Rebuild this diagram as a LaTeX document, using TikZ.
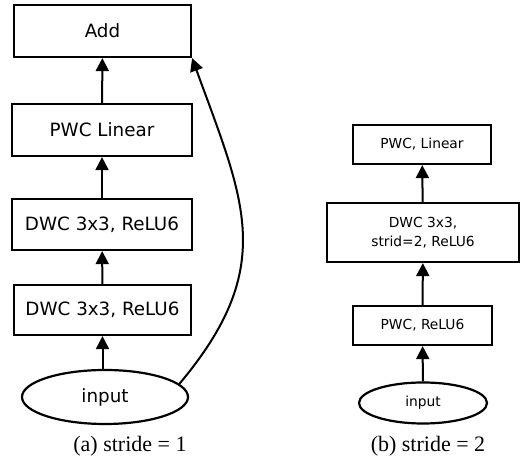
\documentclass[tikz,border=0pt]{standalone}
\usepackage{fontspec}
\setmainfont{Liberation Serif}
\newfontfamily\boxfont{DejaVu Sans}
\usetikzlibrary{arrows.meta,shapes.geometric}
\begin{document}
\begin{tikzpicture}[x=1pt,y=1pt,
    layer/.style={draw,line width=2.2pt,inner sep=0pt},
    bigtext/.style={font=\boxfont\fontsize{18.3}{22}\selectfont},
    smalltext/.style={font=\boxfont\fontsize{13.8}{19.5}\selectfont,align=center},
    flow/.style={line width=2pt,-{Triangle[length=13pt,width=13pt]}},
    caption/.style={font=\fontsize{22}{26}\selectfont}]
    \useasboundingbox (0,0) rectangle (521,462);
    % (a) stride = 1
    \node[layer,bigtext,minimum width=177pt,minimum height=52pt] (addA) at (102.5,431) {Add};
    \node[layer,bigtext,minimum width=180pt,minimum height=52pt] (pwcA) at (102,332) {PWC Linear};
    \node[layer,bigtext,minimum width=180pt,minimum height=51pt] (dwcA1) at (102,237.5) {DWC 3x3, ReLU6};
    \node[layer,bigtext,minimum width=177pt,minimum height=50pt] (dwcA2) at (102.5,152) {DWC 3x3, ReLU6};
    \node[layer,bigtext,ellipse,minimum width=166pt,minimum height=54pt] (inA) at (105,65) {input};
    % Arrows
    \draw[flow] (inA.north -| dwcA2) -- (dwcA2.south);
    \draw[flow] (dwcA2) -- (dwcA1);
    \draw[flow] (dwcA1) -- (pwcA);
    \draw[flow] (pwcA) -- (addA);
    \draw[flow] (inA.10) to[out=50,in=-70,looseness=1.2] (addA.south east);
    % (b) stride = 2
    \node[layer,smalltext,minimum width=138pt,minimum height=39pt] (pwcB2) at (422,317.5) {PWC, Linear};
    \node[layer,smalltext,minimum width=192pt,minimum height=59pt] (dwcB) at (423,229.5) {DWC 3x3,\\strid=2, ReLU6};
    \node[layer,smalltext,minimum width=139pt,minimum height=39pt] (pwcB1) at (422.5,136.5) {PWC, ReLU6};
    \node[layer,smalltext,ellipse,minimum width=128pt,minimum height=41pt] (inB) at (423,59) {input};
    % Arrows
    \draw[flow] (inB) -- (pwcB1);
    \draw[flow] (pwcB1) -- (dwcB);
    \draw[flow] (dwcB) -- (pwcB2);
    % Captions
    \node[caption] (capA) at (130,16) {(a) stride = 1};
    \node[caption] (capB) at (428,16) {(b) stride = 2};
\end{tikzpicture}
\end{document}
